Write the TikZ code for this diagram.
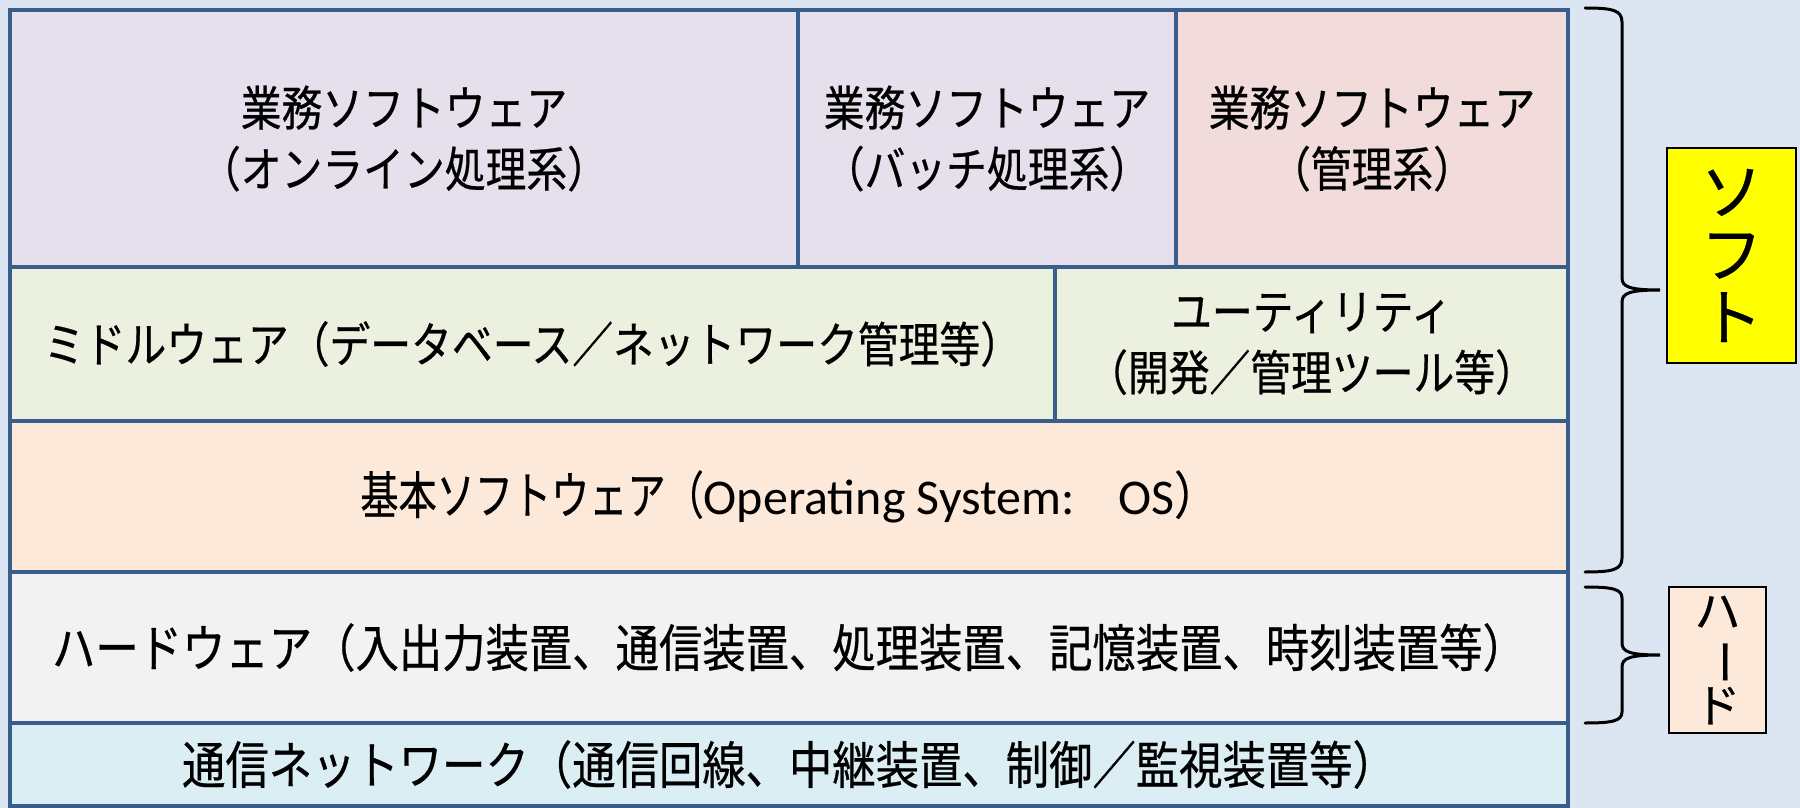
\documentclass[tikz,border=0pt]{standalone}
\usepackage{fontspec}
\setmainfont{Noto Sans CJK JP}[FakeStretch=0.85,FakeBold=0.5]
\newfontfamily\jpv{Noto Sans CJK JP}[FakeBold=0.5]
\newfontfamily\lat{Carlito}
\definecolor{bg}{HTML}{DCE6F2}
\definecolor{bord}{HTML}{3A5E8C}
\definecolor{lav}{HTML}{E5E0EC}
\definecolor{pink}{HTML}{F2DCDB}
\definecolor{grn}{HTML}{EBF1DE}
\definecolor{org}{HTML}{FDE9D9}
\definecolor{gry}{HTML}{F2F2F2}
\definecolor{aqua}{HTML}{DBEEF4}
\definecolor{yel}{HTML}{FFFF00}
\begin{document}
\begin{tikzpicture}[x=0.5pt,y=-0.5pt,
  cell/.style={draw=bord, line width=1.75pt, rectangle, inner sep=0pt, align=center, text=black},
  small/.style={font=\fontsize{24pt}{30.5pt}\selectfont},
  big/.style={font=\fontsize{25.5pt}{30pt}\selectfont},
  brace/.style={draw=black, line width=1.5pt, line cap=round},
  tag/.style={draw=black, line width=1pt, rectangle, inner sep=0pt, align=center}]
\fill[bg] (0,0) rectangle (1800,808);
\useasboundingbox (0,0) rectangle (1800,808);
% row 1
\node[cell, small, fill=lav, minimum width=394pt, minimum height=128.5pt] (b1) at (404,138.5) {業務ソフトウェア\\（オンライン処理系）};
\node[cell, small, fill=lav, minimum width=189pt, minimum height=128.5pt] (b2) at (987,138.5) {業務ソフトウェア\\（バッチ処理系）};
\node[cell, small, fill=pink, minimum width=196pt, minimum height=128.5pt] (b3) at (1372,138.5) {業務ソフトウェア\\（管理系）};
% row 2
\node[cell, small, fill=grn, minimum width=522.5pt, minimum height=77pt] (m1) at (532.5,344) {ミドルウェア（データベース／ネットワーク管理等）};
\node[cell, small, fill=grn, minimum width=256.5pt, minimum height=77pt] (m2) at (1311.5,344) {ユーティリティ\\（開発／管理ツール等）};
% row 3
\node[cell, big, fill=org, minimum width=779pt, minimum height=75.5pt] (os) at (789,496.5) {\scalebox{0.88}[1]{基本ソフトウェア（}{\lat\fontsize{25pt}{30pt}\selectfont Operating System:}　{\lat\fontsize{25pt}{30pt}\selectfont OS}）};
% row 4
\node[cell, big, fill=gry, minimum width=779pt, minimum height=75.5pt] (hw) at (789,647.5) {ハードウェア（入出力装置、通信装置、処理装置、記憶装置、時刻装置等）};
% row 5
\node[cell, big, fill=aqua, minimum width=779pt, minimum height=41.5pt] (nw) at (789,764.5) {通信ネットワーク（通信回線、中継装置、制御／監視装置等）};
% braces
\draw[brace] (1585,8) .. controls (1612,8) and (1622,10) .. (1622,22) -- (1622,278)
  .. controls (1622,287) and (1630,290) .. (1660,290)
  .. controls (1630,290) and (1622,293) .. (1622,302) -- (1622,558)
  .. controls (1622,570) and (1612,572) .. (1585,572);
\draw[brace] (1585,587) .. controls (1612,587) and (1622,589) .. (1622,598) -- (1622,643)
  .. controls (1622,652) and (1630,655) .. (1660,655)
  .. controls (1630,655) and (1622,658) .. (1622,667) -- (1622,712)
  .. controls (1622,721) and (1612,723) .. (1585,723);
% labels
\node[tag, fill=yel, minimum width=64.5pt, minimum height=107.5pt, font=\jpv\fontsize{31pt}{31.5pt}\selectfont] (soft) at (1731.5,255.5) {ソ\\フ\\ト};
\node[tag, fill=org, minimum width=48.5pt, minimum height=73pt, font=\jpv\fontsize{23pt}{22pt}\selectfont] (hard) at (1717.5,660) {ハ\\\rotatebox[origin=c]{-90}{ー}\\ド};
\end{tikzpicture}
\end{document}
